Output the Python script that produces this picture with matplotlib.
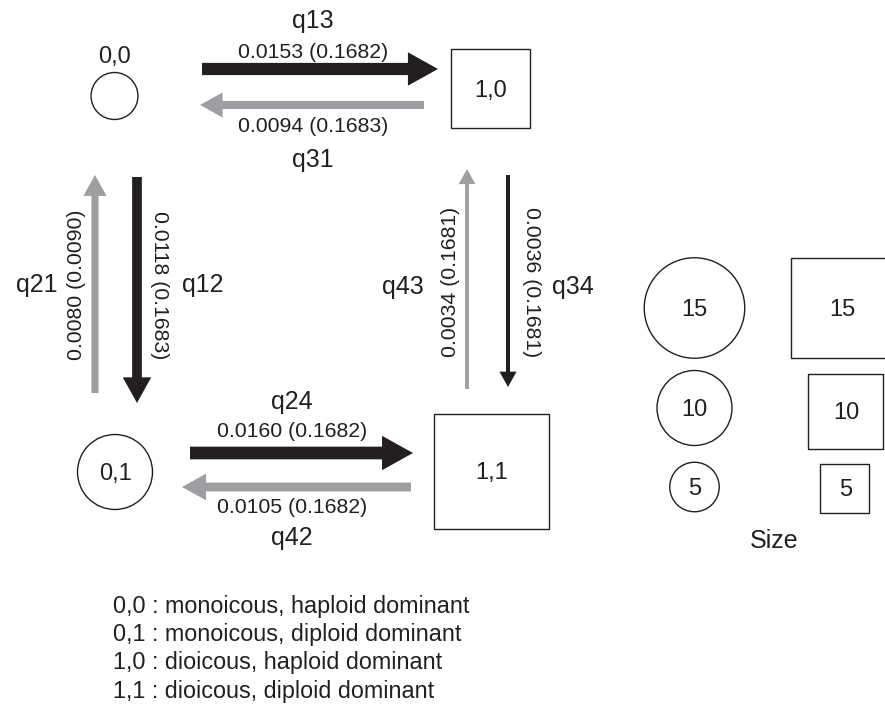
import matplotlib
matplotlib.use("Agg")
import matplotlib.pyplot as plt
from matplotlib.patches import FancyArrow, Circle, Rectangle

plt.rcParams['font.family'] = ['Liberation Sans', 'DejaVu Sans']

# ---------------- data ----------------
transitions = ['q13', 'q31', 'q12', 'q21', 'q34', 'q43', 'q24', 'q42']
rates = [0.0153, 0.0094, 0.0118, 0.0080, 0.0036, 0.0034, 0.0160, 0.0105]
errors = [0.1682, 0.1683, 0.1683, 0.0090, 0.1681, 0.1681, 0.1682, 0.1682]
state_labels = ['0,0', '0,1', '1,0', '1,1']
state_sizes = [4.5, 10.0, 10.8, 17.8]
state_shapes = ['circle', 'circle', 'square', 'square']
legend_sizes = [15, 10, 5]
legend_text = ['0,0 : monoicous, haploid dominant',
               '0,1 : monoicous, diploid dominant',
               '1,0 : dioicous, haploid dominant',
               '1,1 : dioicous, diploid dominant']

# ---------------- style / layout ----------------
BLACK = '#231f20'
GRAY = '#9d9fa2'


def size_to_px(s):
    return 24 + 5.1 * s


fig = plt.figure(figsize=(8.85, 7.06), dpi=100)
ax = fig.add_axes([0, 0, 1, 1])
ax.set_xlim(0, 885)
ax.set_ylim(706, 0)
ax.axis('off')

# arrow layout: start, end, name position, value position, value rotation
arrow_layout = {
    'q13': dict(p0=(202, 69), p1=(438, 69), name=(313, 28), val=(313, 58), rot=0),
    'q31': dict(p0=(424, 105), p1=(200, 105), name=(313, 167), val=(313, 132), rot=0),
    'q12': dict(p0=(137, 177), p1=(137, 403), name=(203, 285), val=(160, 285), rot=-90),
    'q21': dict(p0=(95, 393), p1=(95, 175), name=(37, 285), val=(77, 285), rot=90),
    'q34': dict(p0=(508, 175), p1=(508, 387), name=(573, 287), val=(532, 282), rot=-90),
    'q43': dict(p0=(467, 389), p1=(467, 169), name=(403, 287), val=(450, 282), rot=90),
    'q24': dict(p0=(190, 453), p1=(413, 453), name=(292, 409), val=(292, 437), rot=0),
    'q42': dict(p0=(411, 487), p1=(182, 487), name=(292, 545), val=(292, 513), rot=0),
}
pairs = {'q13': 'q31', 'q31': 'q13', 'q12': 'q21', 'q21': 'q12',
         'q34': 'q43', 'q43': 'q34', 'q24': 'q42', 'q42': 'q24'}
rate_of = dict(zip(transitions, rates))

for name, r, e in zip(transitions, rates, errors):
    L = arrow_layout[name]
    (x0, y0), (x1, y1) = L['p0'], L['p1']
    w = 1.5 + 700 * r
    hw = 2 * w + 9
    hl = 0.9 * hw
    col = BLACK if r >= rate_of[pairs[name]] else GRAY
    ax.add_patch(FancyArrow(x0, y0, x1 - x0, y1 - y0, width=w, head_width=hw,
                            head_length=hl, length_includes_head=True,
                            color=col, lw=0))
    if L['rot'] == 0:
        ax.text(*L['name'], name, ha='center', va='baseline', fontsize=18, color=BLACK)
        ax.text(*L['val'], f'{r:.4f} ({e:.4f})', ha='center', va='baseline',
                fontsize=15.3, color=BLACK)
    else:
        ax.text(*L['name'], name, ha='center', va='center', fontsize=18, color=BLACK)
        ax.text(*L['val'], f'{r:.4f} ({e:.4f})', ha='center', va='center',
                rotation=L['rot'], fontsize=15.3, color=BLACK)

# states
state_centers = {'0,0': (114.5, 96), '0,1': (115, 472), '1,0': (490.5, 88.5), '1,1': (491.5, 471.5)}
for lab, s, shp in zip(state_labels, state_sizes, state_shapes):
    cx, cy = state_centers[lab]
    d = size_to_px(s)
    if shp == 'circle':
        ax.add_patch(Circle((cx, cy), d / 2, fill=False, ec=BLACK, lw=1.0))
    else:
        ax.add_patch(Rectangle((cx - d / 2, cy - d / 2), d, d, fill=False, ec=BLACK, lw=1.0))
    if lab == '0,0':
        ax.text(cx, 63, lab, ha='center', va='baseline', fontsize=17, color=BLACK)
    else:
        ax.text(cx, cy + 8, lab, ha='center', va='baseline', fontsize=17, color=BLACK)

# size legend
leg_y_circle = [308, 408, 487]
leg_y_square = [308, 411, 488.5]
leg_x_square = [841, 845, 844.5]
for s, yc, ys, xs in zip(legend_sizes, leg_y_circle, leg_y_square, leg_x_square):
    d = size_to_px(s)
    ax.add_patch(Circle((694.5, yc), d / 2, fill=False, ec=BLACK, lw=1.0))
    ax.text(694.5, yc + 8, str(s), ha='center', va='baseline', fontsize=17, color=BLACK)
    ax.add_patch(Rectangle((xs - d / 2, ys - d / 2), d, d, fill=False, ec=BLACK, lw=1.0))
    ax.text(xs + 1, ys + 8, str(s), ha='center', va='baseline', fontsize=17, color=BLACK)
ax.text(774, 548, 'Size', ha='center', va='baseline', fontsize=18, color=BLACK)

# state legend text
for i, t in enumerate(legend_text):
    ax.text(113, 613 + 28.2 * i, t, ha='left', va='baseline', fontsize=16.8, color=BLACK)

fig.savefig('out.png', dpi=100)
